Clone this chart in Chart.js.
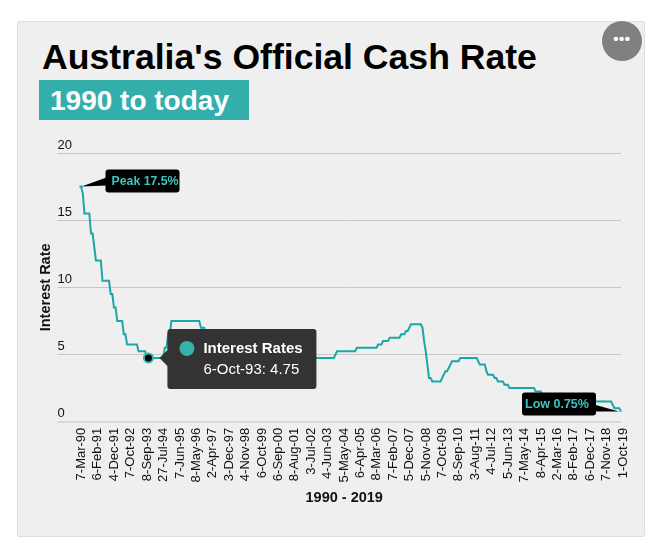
<!DOCTYPE html>
<html><head><meta charset="utf-8">
<style>
html,body{margin:0;padding:0;background:#fff;width:652px;height:546px;overflow:hidden;font-family:"Liberation Sans",Arial,sans-serif}
#panel{position:absolute;left:17px;top:21px;width:626px;height:514px;background:#efefef;border:1px solid #dfdfdf;border-radius:2px}
#title{position:absolute;left:42px;top:37px;font-size:35.6px;line-height:40px;font-weight:bold;color:#000;white-space:nowrap}
#sub{position:absolute;left:39px;top:80px;width:210px;height:40px;background:#34aeaa;color:#fff;font-size:28px;font-weight:bold;line-height:42px;text-indent:11px;white-space:nowrap}
#more{position:absolute;left:602px;top:21px;width:40px;height:40px;border-radius:50%;background:#808080;color:#fff;font-size:15px;font-weight:bold;text-align:center;line-height:35px;letter-spacing:.5px}
canvas{position:absolute;left:0;top:0}
</style>
<script src="https://cdn.jsdelivr.net/npm/chart.js@4/dist/chart.umd.min.js"></script>
</head><body>
<div id="panel"></div>
<div id="title">Australia's Official Cash Rate</div>
<div id="sub">1990 to today</div>
<div id="more">•••</div>
<canvas id="c" width="652" height="546"></canvas>
<script>
const tickLabels=["7-Mar-90","6-Feb-91","4-Dec-91","7-Oct-92","8-Sep-93","27-Jul-94","7-Jun-95","8-May-96","2-Apr-97","3-Dec-97","4-Nov-98","6-Oct-99","6-Sep-00","8-Aug-01","3-Jul-02","4-Jun-03","5-May-04","6-Apr-05","8-Mar-06","7-Feb-07","5-Dec-07","5-Nov-08","7-Oct-09","8-Sep-10","3-Aug-11","4-Jul-12","5-Jun-13","7-May-14","8-Apr-15","2-Mar-16","8-Feb-17","6-Dec-17","7-Nov-18","1-Oct-19"];
const tickEvery=10;
const rates=[
17.5,17.5,17,15.5,15.5,15.5,15.5,14,14,13,
12,12,12,12,10.5,10.5,10.5,10.5,10.5,9.5,
9.5,8.5,8.5,7.5,7.5,7.5,7.5,6.5,6.5,5.75,
5.75,5.75,5.75,5.75,5.75,5.75,5.25,5.25,5.25,5.25,
5.25,4.75,4.75,4.75,4.75,4.75,4.75,4.75,4.75,4.75,
4.75,4.75,5.5,5.5,6.5,6.5,7.5,7.5,7.5,7.5,
7.5,7.5,7.5,7.5,7.5,7.5,7.5,7.5,7.5,7.5,
7.5,7.5,7.5,7.5,7,7,7,6.5,6,6,
6,5.5,5.5,5.5,5,5,5,5,5,5,
5,5,5,5,5,5,5,5,5,5,
5,5,4.75,4.75,4.75,4.75,4.75,4.75,4.75,4.75,
4.75,5,5,5.5,5.5,6,6,6,6,6,
6.25,6.25,6.25,6.25,6.25,5.75,5.75,5.25,5,5,
5,5,4.75,4.5,4.5,4.25,4.25,4.25,4.5,4.75,
4.75,4.75,4.75,4.75,4.75,4.75,4.75,4.75,4.75,4.75,
4.75,4.75,4.75,4.75,4.75,4.75,5,5.25,5.25,5.25,
5.25,5.25,5.25,5.25,5.25,5.25,5.25,5.25,5.25,5.5,
5.5,5.5,5.5,5.5,5.5,5.5,5.5,5.5,5.5,5.5,
5.5,5.5,5.75,5.75,5.75,6,6,6,6,6.25,
6.25,6.25,6.25,6.25,6.25,6.25,6.5,6.5,6.5,6.75,
6.75,7,7.25,7.25,7.25,7.25,7.25,7.25,7.25,7,
6,5.25,4.25,3.25,3.25,3,3,3,3,3,
3,3.25,3.5,3.75,3.75,4,4.25,4.5,4.5,4.5,
4.5,4.5,4.75,4.75,4.75,4.75,4.75,4.75,4.75,4.75,
4.75,4.75,4.75,4.5,4.25,4.25,4.25,4.25,3.75,3.5,
3.5,3.5,3.5,3.25,3.25,3,3,3,3,2.75,
2.75,2.75,2.5,2.5,2.5,2.5,2.5,2.5,2.5,2.5,
2.5,2.5,2.5,2.5,2.5,2.5,2.5,2.5,2.25,2.25,
2.25,2.25,2,2,2,2,2,2,2,2,
2,2,1.75,1.75,1.5,1.5,1.5,1.5,1.5,1.5,
1.5,1.5,1.5,1.5,1.5,1.5,1.5,1.5,1.5,1.5,
1.5,1.5,1.5,1.5,1.5,1.5,1.5,1.5,1.5,1.5,
1.5,1.5,1.5,1.5,1.5,1.25,1,1,1,1,
0.75];
const seriesName="Interest Rates";
const activeIndex=42, activeDate="6-Oct-93";
const peakIndex=0, lowIndex=rates.length-1;
const peakText="Peak 17.5%", lowText="Low 0.75%";
const yTicks=[0,5,10,15,20];
const categories=rates.map((_,i)=>i%tickEvery===0?tickLabels[i/tickEvery]:(i===activeIndex?activeDate:""));
const TEAL="#1aa7a5";

function rr(ctx,x,y,w,h,r){ctx.beginPath();ctx.roundRect(x,y,w,h,r);}
const overlays={id:"overlays",afterDraw(chart){
  const ctx=chart.ctx,xs=chart.scales.x,ys=chart.scales.y;
  const font='"Liberation Sans",Arial,sans-serif';
  ctx.save();
  let px=xs.getPixelForValue(peakIndex),py=ys.getPixelForValue(rates[peakIndex]);
  ctx.fillStyle="#000";
  ctx.beginPath();ctx.moveTo(px+2,py);ctx.lineTo(px+27,py-9);ctx.lineTo(px+27,py-1);ctx.closePath();ctx.fill();
  rr(ctx,px+26,py-17,74,23,3);ctx.fill();
  ctx.fillStyle="#3cc4c0";ctx.font="bold 12.3px "+font;ctx.textBaseline="middle";ctx.textAlign="left";
  ctx.fillText(peakText,px+32,py-5);
  px=xs.getPixelForValue(lowIndex);py=ys.getPixelForValue(rates[lowIndex]);
  ctx.fillStyle="#000";
  ctx.beginPath();ctx.moveTo(px-2,py);ctx.lineTo(px-27,py-7);ctx.lineTo(px-27,py);ctx.closePath();ctx.fill();
  rr(ctx,px-99,py-19,74,23,3);ctx.fill();
  ctx.fillStyle="#3cc4c0";ctx.font="bold 12.5px "+font;
  ctx.fillText(lowText,px-96,py-7);
  px=xs.getPixelForValue(activeIndex);py=ys.getPixelForValue(rates[activeIndex]);
  const tx=px+19,ty=py-29;
  ctx.fillStyle="#333";
  rr(ctx,tx,ty,149,60,3);ctx.fill();
  ctx.beginPath();ctx.moveTo(tx-8,py);ctx.lineTo(tx+1,py-9);ctx.lineTo(tx+1,py+9);ctx.closePath();ctx.fill();
  ctx.fillStyle="#38b0ac";ctx.beginPath();ctx.arc(tx+19.5,ty+19.5,7.5,0,Math.PI*2);ctx.fill();
  ctx.fillStyle="#fff";ctx.font="bold 15px "+font;
  ctx.fillText(seriesName,tx+36,ty+20);
  ctx.font="15px "+font;
  ctx.fillText(activeDate+": "+rates[activeIndex].toFixed(2),tx+36,ty+41);
  ctx.restore();
}};

new Chart(document.getElementById("c"),{
  type:"line",
  data:{labels:categories,datasets:[{label:seriesName,data:rates,borderColor:TEAL,borderWidth:2,tension:0,fill:false,
    pointRadius:c=>c.dataIndex===activeIndex?4.5:0,
    pointBackgroundColor:"#000",pointBorderColor:"#38b0ac",pointBorderWidth:2}]},
  options:{responsive:false,animation:false,devicePixelRatio:1,
    layout:{padding:{left:37,right:31,top:153,bottom:39}},
    plugins:{legend:{display:false},tooltip:{enabled:false},title:{display:false}},
    scales:{
      x:{type:"category",
        afterBuildTicks:s=>{s.ticks=s.ticks.filter(t=>t.value%tickEvery===0);},
        grid:{display:false},border:{display:false},
        ticks:{autoSkip:false,maxRotation:90,minRotation:90,padding:-2,labelOffset:2,color:"#111",font:{size:13,family:'"Liberation Sans"'}},
        title:{display:true,text:"1990 - 2019   ",color:"#111",font:{size:14.5,weight:"bold",family:'"Liberation Sans"'},padding:{top:9,bottom:0}}},
      y:{min:0,max:20,
        afterBuildTicks:s=>{s.ticks=yTicks.map(v=>({value:v}));},
        afterFit:s=>{s.width=42.5;},
        grid:{color:c=>c.tick.value===0?"#d8d8d8":"#c6c6c6",lineWidth:c=>c.tick.value===0?2:1,tickLength:22,drawTicks:true},
        border:{display:false},
        ticks:{mirror:true,padding:-22,labelOffset:-8,color:"#111",font:{size:13,family:'"Liberation Sans"'}},
        title:{display:true,text:"Interest Rate",color:"#111",font:{size:14.5,weight:"bold",family:'"Liberation Sans"'},padding:{top:0,bottom:4}}}
    }
  },
  plugins:[overlays]
});
</script>
</body></html>
